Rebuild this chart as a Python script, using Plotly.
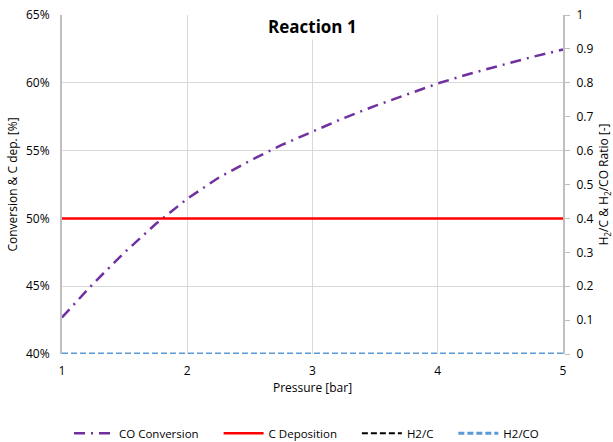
import plotly.graph_objects as go

pressure = [1.0, 1.25, 1.5, 1.75, 2.0, 2.25, 2.5, 2.75, 3.0, 3.25, 3.5, 3.75, 4.0, 4.25, 4.5, 4.75, 5.0]
co_conversion = [0.427, 0.452, 0.475, 0.496, 0.5145, 0.530, 0.5425, 0.554, 0.564, 0.574, 0.583, 0.5915, 0.5995, 0.6065, 0.613, 0.619, 0.6245]
c_deposition = [0.50] * len(pressure)
h2_c = [0.0] * len(pressure)
h2_co = [0.0] * len(pressure)

FONT = "Open Sans"
GREY = "#BFBFBF"
GRID = "#D9D9D9"

fig = go.Figure()
fig.add_trace(go.Scatter(x=pressure, y=co_conversion, name="CO Conversion     ", mode="lines",
                         line=dict(color="#7030A0", width=2.5, dash="11px,6px,2px,6px")))
fig.add_trace(go.Scatter(x=pressure, y=c_deposition, name="C Deposition     ", mode="lines",
                         line=dict(color="#FF0000", width=2.5)))
fig.add_trace(go.Scatter(x=pressure, y=h2_c, name="H2/C     ", mode="lines", yaxis="y2",
                         line=dict(color="#000000", width=2, dash="6px,3px")))
fig.add_trace(go.Scatter(x=pressure, y=h2_co, name="H2/CO", mode="lines", yaxis="y2",
                         line=dict(color="#5B9BD5", width=3, dash="6px,3px")))

fig.update_layout(
    width=613, height=442,
    margin=dict(l=62, r=50, t=15, b=88, autoexpand=False),
    paper_bgcolor="white", plot_bgcolor="white",
    font=dict(family=FONT, size=12, color="#000000"),
    showlegend=True,
    legend=dict(orientation="h", x=0.5, xanchor="center", xref="container",
                y=0.02, yanchor="middle", yref="container",
                font=dict(size=11.5), itemwidth=40, tracegroupgap=0),
    xaxis=dict(range=[1, 5], dtick=1, showgrid=True, gridcolor=GRID, gridwidth=1,
               zeroline=False, showline=False, ticks="", ticklabelstandoff=8,
               tickfont=dict(size=12), automargin=False,
               title=dict(text="Pressure [bar]", font=dict(size=12), standoff=5)),
    yaxis=dict(range=[0.40, 0.65], dtick=0.05, tickformat=".0%", showgrid=True,
               gridcolor=GRID, gridwidth=1, zeroline=False, automargin=False,
               showline=True, linecolor=GREY, linewidth=2, ticks="", ticklabelstandoff=8,
               tickfont=dict(size=12),
               title=dict(text="Conversion & C dep. [%]", font=dict(size=12), standoff=6)),
    yaxis2=dict(range=[0, 1], dtick=0.1, overlaying="y", side="right", showgrid=False,
                zeroline=False, showline=True, linecolor=GREY, linewidth=2, automargin=False,
                ticks="outside", ticklen=5, tickcolor=GREY, tickfont=dict(size=12),
                ticklabelstandoff=4,
                title=dict(text="H<sub>2</sub>/C & H<sub>2</sub>/CO Ratio [-]",
                           font=dict(size=12), standoff=10)),
    annotations=[dict(text="<b>Reaction 1</b>", xref="paper", yref="paper", x=0.5, y=1.0,
                      xanchor="center", yanchor="top", showarrow=False, yshift=2,
                      font=dict(size=17, family=FONT), bgcolor="white", borderpad=1)],
)

fig.write_html("out.html")
